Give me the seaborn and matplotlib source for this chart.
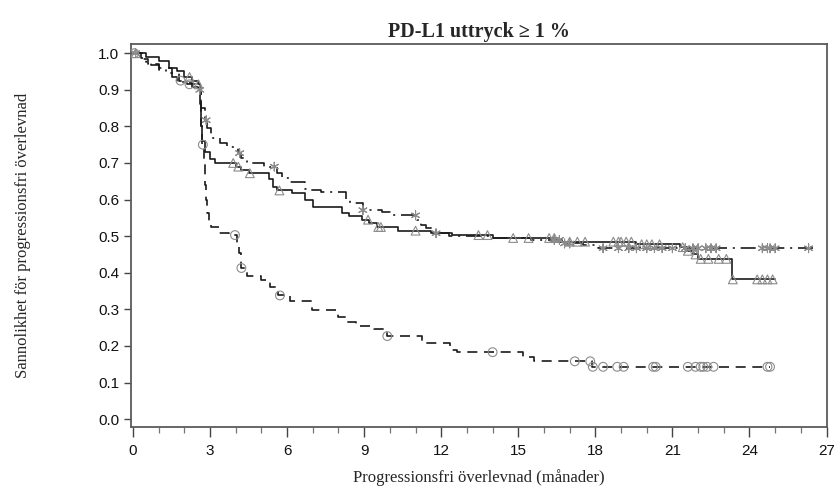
import numpy as np
import matplotlib
matplotlib.use("Agg")
import matplotlib.pyplot as plt
from matplotlib.markers import MarkerStyle
from matplotlib.ticker import MultipleLocator
import seaborn as sns

# Kaplan-Meier step data (months, survival)
# solid line, triangle censor marks
times_a = [0, 0.5, 1.0, 1.4, 1.7, 2.0, 2.3, 2.55, 2.6, 2.65, 2.7, 2.8, 3.0, 3.2,
           4.0, 4.2, 4.5, 5.3, 5.45, 5.6, 6.2, 6.7, 7.0, 8.15, 8.4, 8.9, 9.2, 9.5,
           10.3, 11.6, 12.4, 14.0, 16.5, 19.6, 21.3, 21.6, 21.8, 22.0, 23.3, 25.0]
surv_a = [1.0, 0.99, 0.98, 0.96, 0.95, 0.935, 0.925, 0.915, 0.86, 0.80, 0.76, 0.73, 0.71, 0.70,
          0.69, 0.68, 0.672, 0.655, 0.635, 0.625, 0.617, 0.60, 0.58, 0.563, 0.555, 0.545, 0.535, 0.525,
          0.515, 0.51, 0.503, 0.495, 0.485, 0.478, 0.47, 0.46, 0.45, 0.438, 0.382, 0.382]
cens_a = [0.1, 2.2, 2.55, 3.9, 4.1, 4.55, 5.7, 9.15, 9.55, 9.65, 11.0, 13.45, 13.8, 14.8,
          15.4, 16.2, 16.4, 17.0, 17.3, 17.6, 18.7, 18.9, 19.0, 19.2, 19.4, 19.8, 20.0,
          20.2, 20.5, 21.4, 21.6, 21.9, 22.1, 22.4, 22.8, 23.1, 23.35, 24.3, 24.5, 24.7, 24.9]

# dash-dot line, asterisk censor marks
times_b = [0, 0.3, 0.5, 0.7, 1.0, 1.3, 1.5, 1.7, 2.0, 2.3, 2.55, 2.65, 2.8, 2.9, 3.05,
           3.4, 3.65, 4.1, 4.2, 4.45, 5.1, 5.6, 5.8, 6.1, 6.7, 6.9, 7.3, 8.3, 8.45, 8.95,
           9.7, 10.0, 11.05, 11.2, 11.4, 11.8, 12.3, 14.0, 15.5, 16.7, 17.5, 18.1, 26.6]
surv_b = [1.0, 0.986, 0.975, 0.967, 0.955, 0.945, 0.935, 0.922, 0.918, 0.907, 0.90, 0.85, 0.817, 0.795, 0.768,
          0.754, 0.743, 0.727, 0.713, 0.70, 0.69, 0.672, 0.66, 0.648, 0.63, 0.626, 0.62, 0.60, 0.59, 0.571,
          0.566, 0.557, 0.544, 0.53, 0.522, 0.508, 0.50, 0.495, 0.49, 0.48, 0.477, 0.467, 0.467]
cens_b = [0.1, 2.6, 2.85, 4.15, 5.5, 8.95, 11.0, 11.8, 16.4, 16.6, 16.8, 17.0, 18.3, 18.9,
          19.3, 19.6, 20.0, 20.3, 20.6, 21.0, 21.5, 21.8, 22.0, 22.3, 22.5, 22.7, 24.5,
          24.7, 24.8, 25.0, 26.3]

# dashed line, circle censor marks
times_c = [0, 0.4, 0.6, 1.0, 1.5, 1.8, 2.1, 2.4, 2.65, 2.7, 2.75, 2.8, 2.85, 2.9, 2.95, 3.05,
           3.35, 3.75, 4.05, 4.12, 4.2, 4.45, 5.0, 5.35, 5.65, 6.1, 6.95, 8.0, 8.3, 8.7, 9.4, 9.9,
           11.25, 12.35, 12.6, 15.2, 15.6, 17.85, 24.8]
surv_c = [1.0, 0.985, 0.97, 0.96, 0.945, 0.925, 0.915, 0.905, 0.80, 0.75, 0.70, 0.64, 0.60, 0.563, 0.54, 0.526,
          0.51, 0.503, 0.48, 0.453, 0.413, 0.39, 0.38, 0.36, 0.338, 0.322, 0.298, 0.28, 0.265, 0.254, 0.245, 0.227,
          0.207, 0.19, 0.183, 0.17, 0.158, 0.143, 0.143]
cens_c = [0.05, 1.85, 2.2, 2.72, 3.97, 4.22, 5.72, 9.9, 14.0, 17.2, 17.8, 17.9, 18.3, 18.85,
          19.1, 20.25, 20.35, 21.6, 21.9, 22.1, 22.2, 22.35, 22.6, 24.7, 24.8]

title = "PD-L1 uttryck \u2265 1 %"
xlabel = "Progressionsfri överlevnad (månader)"
ylabel = "Sannolikhet för progressionsfri överlevnad"


def at(times, surv, cens):
    # survival value of the step curve at each censor time
    idx = np.searchsorted(times, cens, side="right") - 1
    return np.asarray(surv)[idx]


sns.set_style("ticks")
serif = ["Liberation Serif", "DejaVu Serif"]
plt.rcParams["font.family"] = ["Liberation Sans", "DejaVu Sans"]

fig = plt.figure(figsize=(8.34, 4.95), dpi=100)
ax = fig.add_axes([0.157, 0.137, 0.835, 0.774])

line_col = "#1a1a1a"
mark_col = "#8c8c8c"

curves = [
    (times_a, surv_a, cens_a, "-", "^"),
    (times_b, surv_b, cens_b, (0, (9, 3.5, 1.2, 3.5)), (6, 2, 0)),
    (times_c, surv_c, cens_c, (0, (6, 4)), "o"),
]

for t, s, c, ls, mk in curves:
    sns.lineplot(x=t, y=s, ax=ax, estimator=None, drawstyle="steps-post",
                 color=line_col, linestyle=ls, linewidth=1.2)

for t, s, c, ls, mk in curves:
    sns.scatterplot(x=c, y=at(t, s, c), ax=ax, marker=MarkerStyle(mk, fillstyle="none"),
                    color=mark_col, s=40, linewidth=0.8, zorder=3)

ax.set_xlim(-0.08, 27.03)
ax.set_ylim(-0.022, 1.025)
ax.xaxis.set_major_locator(MultipleLocator(3))
ax.xaxis.set_minor_locator(MultipleLocator(1))
ax.yaxis.set_major_locator(MultipleLocator(0.1))
ax.set_yticklabels([f"{v:.1f}" for v in ax.get_yticks()])

for sp in ax.spines.values():
    sp.set_color("#5a5a5a")
    sp.set_linewidth(1.3)

ax.tick_params(axis="both", which="major", length=5, width=1, color="#444444",
               labelsize=11, labelcolor="#111111")
ax.tick_params(axis="x", which="major", length=7, pad=5)
ax.tick_params(axis="x", which="minor", length=4, width=0.9, color="#777777")

ax.set_title(title, fontfamily=serif, fontweight="bold", fontsize=14.5, pad=5)
ax.set_xlabel(xlabel, fontfamily=serif, fontsize=12, labelpad=8)
ax.set_ylabel(ylabel, fontfamily=serif, fontsize=12, labelpad=48)

fig.savefig("out.png", dpi=100)
